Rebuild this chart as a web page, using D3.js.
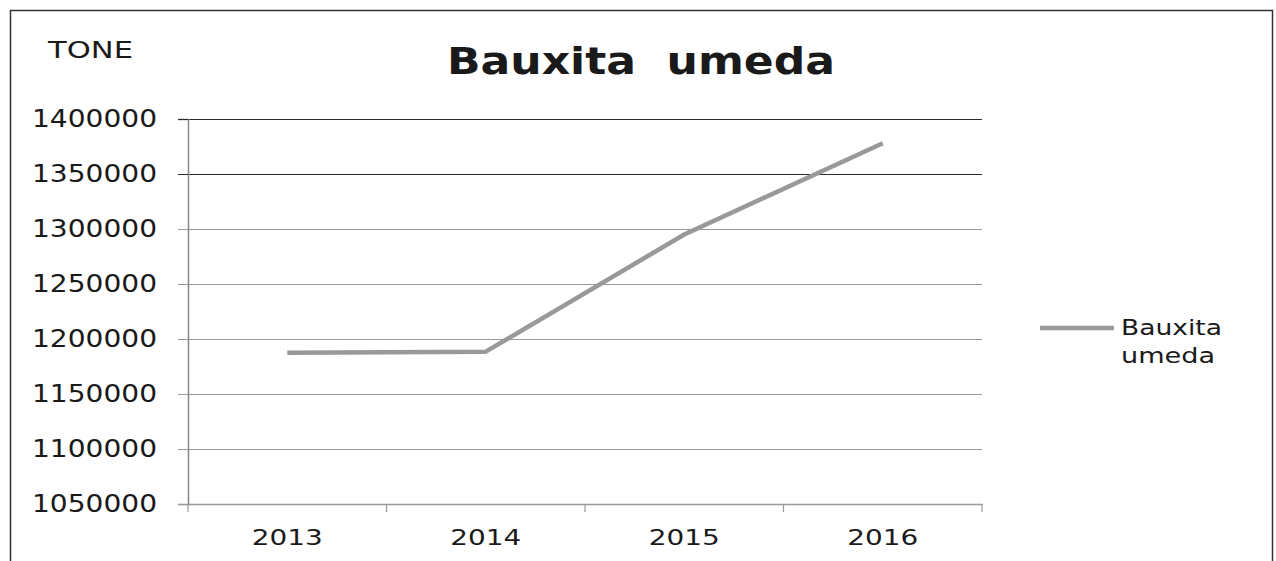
<!DOCTYPE html>
<html>
<head>
<meta charset="utf-8">
<script src="https://cdn.jsdelivr.net/npm/d3@7"></script>
<style>
  body { margin: 0; background: #fff; }
  text { font-family: "DejaVu Sans", Verdana, sans-serif; fill: #1a1a1a; }
</style>
</head>
<body>
<div id="svg"></div>
<script>
/* Data. */
const years = ["2013", "2014", "2015", "2016"]
const values = [1187500, 1188500, 1295000, 1378000]
const yTicks = [1050000, 1100000, 1150000, 1200000, 1250000, 1300000, 1350000, 1400000]
const seriesName = ["Bauxita", "umeda"]

/* Define svg-size. */
const width = 1276
const height = 561

/* Plot area. */
const plotLeft = 188
const plotRight = 982
const plotTop = 119
const plotBottom = 504

/* The scan is a bit stretched sideways, so text is widened to fit. */
const widen = (sel, w) => sel.attr("textLength", w).attr("lengthAdjust", "spacingAndGlyphs")

/* Create svg-element. */
const svg = d3.select("#svg")
  .append("svg")
  .attr("width", width)
  .attr("height", height)

/* Outer frame. */
svg.append("rect")
  .attr("x", 10.5)
  .attr("y", 10.5)
  .attr("width", 1262)
  .attr("height", 570)
  .attr("fill", "none")
  .attr("stroke", "#333")
  .attr("stroke-width", 1.5)

/* Define scales. */
const x = d3.scaleBand()
  .domain(years)
  .range([plotLeft, plotRight])

const y = d3.scaleLinear()
  .domain([1050000, 1400000])
  .range([plotBottom, plotTop])

/* Gridlines. */
svg.append("g")
  .selectAll("line")
  .data(yTicks.slice(1))
  .enter()
  .append("line")
  .attr("x1", plotLeft)
  .attr("x2", plotRight)
  .attr("y1", d => Math.round(y(d)) + 0.5)
  .attr("y2", d => Math.round(y(d)) + 0.5)
  .attr("stroke", d => d >= 1350000 ? "#2a2a2a" : "#999")
  .attr("stroke-width", 1.2)

/* Y axis. */
const yAxis = svg.append("g")
  .attr("transform", `translate(${plotLeft},0)`)
  .call(d3.axisLeft(y).tickValues(yTicks).tickSize(10).tickPadding(21).tickFormat(d3.format("d")))

yAxis.select(".domain").attr("stroke", "#888").attr("stroke-width", 1.5)
yAxis.selectAll(".tick line").attr("stroke", d => d >= 1350000 ? "#2a2a2a" : "#999")
yAxis.selectAll(".tick text")
  .attr("font-size", 24)
  .attr("fill", "#1a1a1a")
  .attr("font-family", "DejaVu Sans")
  .call(widen, 125)

/* X axis. */
const xAxis = svg.append("g")
  .attr("transform", `translate(0,${plotBottom})`)
  .call(d3.axisBottom(x).tickSize(0).tickPadding(25))

xAxis.select(".domain").attr("stroke", "#999").attr("stroke-width", 1.5)
xAxis.selectAll(".tick text")
  .attr("font-size", 22)
  .attr("fill", "#1a1a1a")
  .attr("font-family", "DejaVu Sans")
  .call(widen, 71)

/* Category separators on the x axis. */
svg.append("g")
  .selectAll("line")
  .data(years.concat(["end"]))
  .enter()
  .append("line")
  .attr("x1", (d, i) => i < years.length ? x(d) : plotRight)
  .attr("x2", (d, i) => i < years.length ? x(d) : plotRight)
  .attr("y1", plotBottom)
  .attr("y2", plotBottom + 8)
  .attr("stroke", "#999")
  .attr("stroke-width", 1.2)

/* Define line. */
const line = d3.line()
  .x((d, i) => x(years[i]) + x.bandwidth() / 2)
  .y(d => y(d))

svg.append("path")
  .datum(values)
  .attr("d", line)
  .attr("fill", "none")
  .attr("stroke", "#999")
  .attr("stroke-width", 4.5)
  .attr("stroke-linejoin", "round")

/* Title. */
svg.append("text")
  .attr("x", 641)
  .attr("y", 74)
  .attr("text-anchor", "middle")
  .attr("font-size", 38)
  .attr("font-weight", "bold")
  .attr("xml:space", "preserve")
  .text("Bauxita  umeda")
  .call(widen, 388)

/* Unit label. */
svg.append("text")
  .attr("x", 48)
  .attr("y", 58)
  .attr("font-size", 23)
  .text("TONE")
  .call(widen, 85)

/* Legend. */
svg.append("line")
  .attr("x1", 1040)
  .attr("x2", 1114)
  .attr("y1", 328)
  .attr("y2", 328)
  .attr("stroke", "#999")
  .attr("stroke-width", 4.5)

svg.append("g")
  .selectAll("text")
  .data(seriesName)
  .enter()
  .append("text")
  .attr("x", 1121)
  .attr("y", (d, i) => 335 + i * 28)
  .attr("font-size", 22)
  .text(d => d)
  .each(function(d, i) { widen(d3.select(this), i == 0 ? 101 : 94) })
</script>
</body>
</html>
